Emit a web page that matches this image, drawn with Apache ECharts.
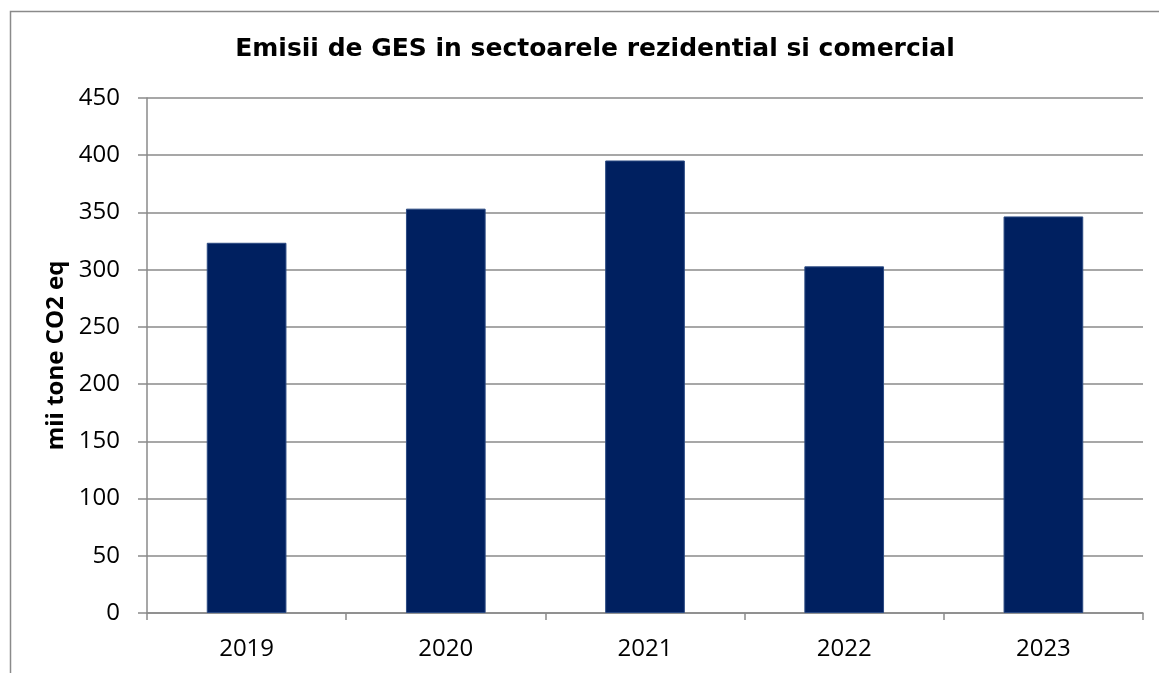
<!DOCTYPE html>
<html>
<head>
<meta charset="utf-8">
<script src="https://cdn.jsdelivr.net/npm/echarts@6/dist/echarts.min.js"></script>
<style>html,body{margin:0;padding:0;background:#fff}#c{width:1159px;height:673px}</style>
</head>
<body>
<div id="c"></div>
<script>
const categories = ['2019', '2020', '2021', '2022', '2023'];
const emissions = [323.5, 353.3, 395.4, 302.9, 346.5];
const yTicks = { min: 0, max: 450, interval: 50 };
const titleText = 'Emisii de GES in sectoarele rezidential si comercial';
const yName = 'mii tone CO2 eq';

const chart = echarts.init(document.getElementById('c'), null, { renderer: 'canvas' });
chart.setOption({
  animation: false,
  backgroundColor: '#fff',
  graphic: [{
    type: 'rect', silent: true,
    shape: { x: 10.5, y: 11.5, width: 1200, height: 800 },
    style: { fill: 'none', stroke: '#8a8a8a', lineWidth: 1.5 }
  }],
  title: {
    text: titleText, left: 590, textAlign: 'center', top: 32,
    textStyle: { fontFamily: 'DejaVu Sans', fontWeight: 'bold', fontSize: 25, color: '#000' }
  },
  grid: { left: 147, right: 16, top: 98, bottom: 60 },
  xAxis: {
    type: 'category', data: categories,
    axisLine: { lineStyle: { color: '#8a8a8a', width: 1.5 } },
    axisTick: { show: true, length: 7, lineStyle: { color: '#8a8a8a', width: 1.5 } },
    axisLabel: { margin: 24, fontSize: 24, color: '#000', fontFamily: 'Open Sans' }
  },
  yAxis: {
    type: 'value', min: yTicks.min, max: yTicks.max, interval: yTicks.interval,
    name: yName, nameLocation: 'middle', nameGap: 74, nameRotate: 90,
    nameTextStyle: { fontSize: 24, fontWeight: 'bold', color: '#000', fontFamily: 'Open Sans' },
    axisLine: { show: true, lineStyle: { color: '#8a8a8a', width: 1.5 } },
    axisTick: { show: true, length: 9, lineStyle: { color: '#8a8a8a', width: 1.5 } },
    axisLabel: { margin: 27, fontSize: 24, color: '#000', fontFamily: 'Open Sans' },
    splitLine: { lineStyle: { color: '#8a8a8a', width: 1.5 } }
  },
  series: [{
    type: 'bar', data: emissions, barWidth: '40%',
    itemStyle: { color: '#002060', borderColor: '#2b4a82', borderWidth: 1 }
  }]
});
</script>
</body>
</html>
